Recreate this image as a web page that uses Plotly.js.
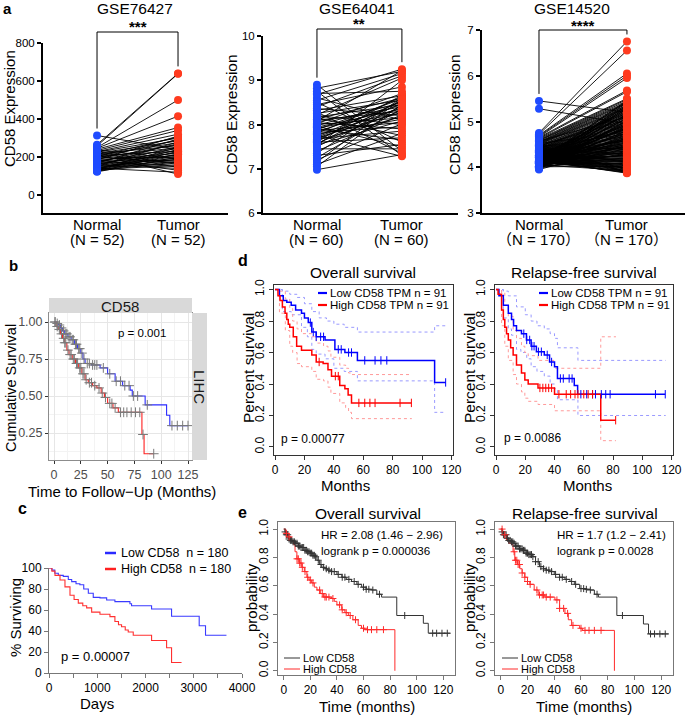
<!DOCTYPE html>
<html><head><meta charset="utf-8">
<script src="https://cdn.plot.ly/plotly-3.0.1.min.js"></script>
<style>body{margin:0;background:#fff}#chart{width:685px;height:715px}</style>
</head><body><div id="chart"></div>
<script>
// ---------- Panel a data ----------
const groups = [0, 1]; // Normal, Tumor positions
const titlesA = ['GSE76427', 'GSE64041', 'GSE14520'];
const starsA = ['***', '**', '****'];
const nLabelsA = [['(N = 52)', '(N = 52)'], ['(N = 60)', '(N = 60)'], ['\uFF08N = 170\uFF09', '\uFF08N = 170\uFF09']];
const normal76427 = [313,265,258,250,246,241,238,234,231,228,225,222,219,216,213,210,207,204,201,199,196,193,190,188,185,182,180,177,175,172,170,167,165,162,160,157,155,152,150,148,145,143,141,139,137,135,133,131,129,127,125,122];
const tumor76427 = [240,640,638,500,415,355,190,340,160,320,300,145,285,260,110,275,230,305,170,250,290,200,265,130,310,220,180,245,150,270,210,295,185,235,140,255,175,225,280,195,165,215,120,205,250,155,240,190,230,175,215,200];
const normal64041 = [8.90,8.82,8.75,8.68,8.60,8.55,8.50,8.45,8.40,8.36,8.32,8.28,8.25,8.22,8.20,8.17,8.15,8.12,8.10,8.08,8.06,8.04,8.02,8.00,7.98,7.96,7.94,7.92,7.90,7.88,7.86,7.84,7.82,7.80,7.78,7.76,7.74,7.72,7.70,7.68,7.66,7.64,7.62,7.60,7.58,7.56,7.54,7.52,7.50,7.45,7.40,7.35,7.30,7.25,7.20,7.15,7.10,7.05,6.98,8.70];
const tumor64041 = [7.40,9.20,7.30,9.25,8.10,9.15,7.60,8.85,9.10,8.20,8.65,7.35,8.55,9.05,8.00,8.45,7.75,8.60,8.30,9.22,8.40,7.90,8.70,8.15,8.50,7.50,8.35,8.25,7.65,8.58,8.05,8.45,7.95,8.62,8.12,7.28,8.52,8.38,8.28,7.85,8.48,8.18,8.66,7.70,8.32,8.55,8.08,9.00,8.42,7.45,8.22,8.60,7.55,8.36,8.02,8.58,7.80,8.46,7.32,8.75];
const normal14520 = [5.45,5.28,4.75,4.72,4.70,4.68,4.66,4.65,4.63,4.62,4.60,4.59,4.58,4.56,4.55,4.54,4.53,4.52,4.51,4.50,4.49,4.48,4.47,4.46,4.45,4.45,4.44,4.43,4.42,4.41,4.40,4.40,4.39,4.38,4.37,4.37,4.36,4.35,4.35,4.34,4.33,4.33,4.32,4.31,4.31,4.30,4.30,4.29,4.28,4.28,4.27,4.27,4.26,4.26,4.25,4.25,4.24,4.24,4.23,4.23,4.22,4.22,4.21,4.21,4.20,4.20,4.20,4.19,4.19,4.18,4.18,4.18,4.17,4.17,4.16,4.16,4.16,4.15,4.15,4.15,4.14,4.14,4.14,4.13,4.13,4.13,4.12,4.12,4.12,4.11,4.11,4.11,4.10,4.10,4.10,4.10,4.09,4.09,4.09,4.08,4.08,4.08,4.07,4.07,4.07,4.06,4.06,4.06,4.05,4.05,4.05,4.05,4.04,4.04,4.04,4.03,4.03,4.03,4.02,4.02,4.02,4.01,4.01,4.01,4.00,4.00,4.00,3.99,3.99,3.98,4.36,4.28,4.21,4.47,4.15,4.09,4.32,4.25,4.19,4.12,4.41,4.06,4.52,4.30,4.17,4.23,4.38,4.03,4.27,4.11,4.44,4.20,4.08,4.34,4.14,4.57,4.02,4.26,4.18,4.39,4.10,4.29,4.05,4.22,4.48,4.13,3.97,4.31,4.07,3.95];
const tumor14520 = [5.20,4.95,6.75,6.55,6.05,6.00,5.95,5.68,5.65,5.50,5.48,5.45,5.42,5.40,5.38,5.35,5.32,5.30,5.28,5.25,3.90,5.22,5.20,3.88,5.18,5.15,5.12,3.95,5.10,5.08,5.05,5.02,5.00,4.98,4.95,4.92,4.90,4.88,4.85,4.82,4.80,4.78,4.75,4.72,4.70,4.68,4.65,4.62,4.60,4.58,4.55,4.52,4.50,4.48,4.45,4.42,4.40,4.38,4.35,4.32,4.30,4.28,4.25,4.22,4.20,4.18,4.15,4.12,4.10,4.08,4.05,4.02,4.00,3.98,3.96,3.94,3.92,3.90,3.88,3.87,5.46,5.15,4.85,4.62,4.44,4.26,4.06,5.34,4.96,4.74,4.56,4.36,4.16,3.99,5.24,5.06,4.86,4.66,4.46,4.27,4.08,5.38,5.16,4.94,4.76,4.54,4.34,4.14,3.93,5.28,5.08,4.88,4.68,4.48,4.28,4.09,5.42,5.20,5.00,4.80,4.60,4.41,4.21,4.02,5.32,5.12,4.91,4.71,4.51,4.31,4.11,3.91,5.26,5.04,4.84,4.64,4.43,4.23,4.03,5.44,5.18,4.97,4.77,4.57,4.37,4.17,3.97,5.36,5.14,4.93,4.73,4.53,4.33,4.13,5.30,5.10,4.89,4.69,4.49,4.29,4.19,4.99,4.79,4.59,4.39,3.89,5.02,4.82,4.63,4.47];

// ---------- Panel b (months, cumulative survival) ----------
const bLowT = [0,2,4,6,8,10,13,16,19,22,25,27,29,35,43,50,57,64,71,73,85,105,108,125];
const bLowS = [1.0,0.99,0.98,0.96,0.94,0.92,0.90,0.88,0.85,0.82,0.79,0.75,0.72,0.71,0.69,0.65,0.60,0.57,0.54,0.50,0.44,0.37,0.30,0.30];
const bHighT = [0,2,4,6,8,10,12,14,17,20,23,26,29,32,36,40,44,47,50,55,60,82,84,93];
const bHighS = [1.0,0.97,0.95,0.92,0.89,0.86,0.81,0.78,0.75,0.72,0.69,0.65,0.61,0.59,0.57,0.555,0.52,0.49,0.45,0.42,0.39,0.24,0.11,0.11];
const bLowCens = [1,3,5,7,9,11,12,14,15,17,18,20,21,23,24,26,28,31,33,36,38,40,46,52,58,62,66,70,74,78,87,110,115,120,125];
const bHighCens = [1,3,5,7,9,10,11,13,15,16,18,19,21,22,24,25,27,28,30,33,35,38,42,45,48,52,54,57,62,65,68,72,76,80,83,93];

// ---------- Panel c (days, % surviving) ----------
const cLowT = [0,60,120,193,296,400,470,560,640,720,815,917,1056,1195,1366,1677,1711,2126,2540,3113,3244,3678];
const cLowS = [100,98,95,93,92,89,87,85,84,80,76,72,71.5,69.5,68,66,64,61,54,45,36,36];
const cHighT = [0,60,124,228,331,435,520,607,700,780,884,1056,1263,1366,1440,1504,1580,1642,1746,2126,2437,2540,2747];
const cHighS = [100,97,93,88.6,82,74,70,66.5,64,62,58,56,53.7,49,46,44,41,39,36,31,24,10,10];

// ---------- Panel d1 Overall survival (GEPIA) ----------
const d1LowT = [0,3,5.6,8,11,14,18,20,22.6,25,28,34,40.7,47.5,56,108.5,116];
const d1LowS = [1.0,0.96,0.93,0.92,0.90,0.87,0.85,0.82,0.79,0.73,0.70,0.68,0.62,0.60,0.55,0.41,0.41];
const d1HighT = [0,2,3.4,5,6.8,8,9,10,12.4,14.7,18,25,28,32.7,36,38.4,44,47.5,49.7,52,92.7];
const d1HighS = [1.0,0.96,0.93,0.89,0.85,0.81,0.78,0.76,0.70,0.64,0.615,0.585,0.54,0.53,0.49,0.45,0.39,0.37,0.33,0.28,0.28];
const d1LowUpT = [0,5,10,15,20,25,30,35,40,47,56,108.5,116];
const d1LowUpS = [1.0,0.99,0.97,0.95,0.91,0.86,0.82,0.80,0.78,0.76,0.73,0.77,0.77];
const d1LowLoT = [0,5,11,18,22,25,28,34,40,47,56,108.5,116];
const d1LowLoS = [1.0,0.86,0.84,0.76,0.70,0.62,0.59,0.56,0.50,0.48,0.42,0.22,0.22];
const d1HighCiT = [0,3,7,10,12,15,18,25,28,33,36,38,44,48,50,52,93];
const d1HighUpS = [1.0,0.99,0.94,0.88,0.80,0.75,0.72,0.70,0.66,0.64,0.61,0.57,0.52,0.50,0.47,0.46,0.46];
const d1HighLoS = [1.0,0.85,0.74,0.64,0.60,0.53,0.51,0.48,0.43,0.42,0.38,0.34,0.28,0.25,0.22,0.18,0.18];
const d1LowCens = [24,26,28,31,33,43,45,50,52,61,68,72,76,116];
const d1HighCens = [30,41,43,57,61,64.5,68,85,92.7];

// ---------- Panel d2 Relapse-free survival (GEPIA) ----------
const d2LowT = [0,2,5,8.4,10.6,12,14,17.4,20.8,24,27.6,33,36.6,40,42,53.5,55.8,115.7];
const d2LowS = [1.0,0.96,0.90,0.85,0.81,0.77,0.74,0.72,0.68,0.64,0.605,0.585,0.54,0.51,0.435,0.39,0.335,0.335];
const d2HighT = [0,1.4,3.8,5,6,7.2,8.4,10,11.7,14,17.4,19.7,22,28.7,40,71.6,81.8];
const d2HighS = [1.0,0.97,0.87,0.81,0.76,0.72,0.68,0.63,0.585,0.52,0.47,0.425,0.40,0.375,0.335,0.17,0.17];
const d2LowUpT = [0,5,8.4,14,20,24,28,33,37,40,42,54,56,116];
const d2LowUpS = [1.0,0.99,0.96,0.89,0.84,0.80,0.77,0.75,0.72,0.69,0.63,0.63,0.55,0.55];
const d2LowLoT = [0,5,8.4,10.6,14,17,21,24,28,33,37,40,42,54,56,116];
const d2LowLoS = [1.0,0.82,0.75,0.71,0.62,0.60,0.56,0.51,0.48,0.45,0.40,0.37,0.30,0.30,0.20,0.20];
const d2HighCiT = [0,3.8,6,8.4,11.7,14,17.4,19.7,22,28.7,40,71.6,82];
const d2HighUpS = [1.0,0.98,0.90,0.83,0.74,0.69,0.64,0.60,0.58,0.55,0.50,0.70,0.70];
const d2HighLoS = [1.0,0.77,0.64,0.55,0.46,0.40,0.35,0.31,0.29,0.27,0.23,0.04,0.04];
const d2LowCens = [19,21,23,24.5,26,29,31,35,38,44,46,50,52,58,62,66,68,72,75,78,109,115.7];
const d2HighCens = [30,32,34,36,38,43,48,51,54,56,60,63,66,81.8];

// ---------- Panel e1 Overall survival (KM plotter) ----------
const e1LowT = [0,1,2,3.6,5,6.5,8.6,11,13,16,18,20,22,23.6,25,27,28.6,31,33,36,40,43.7,47,51,55,58.6,62,66,70,73.6,85,105,108.7,125];
const e1LowS = [1.0,0.98,0.96,0.93,0.92,0.91,0.90,0.88,0.87,0.85,0.84,0.83,0.815,0.805,0.78,0.75,0.73,0.72,0.71,0.70,0.68,0.66,0.645,0.63,0.61,0.59,0.575,0.57,0.54,0.52,0.39,0.335,0.265,0.265];
const e1HighT = [0,1.5,3.6,5.5,7.4,8.5,9.9,12,13.6,15.5,17.4,19,21,23,25,27.5,30,36,38,40,43.6,46,48.6,52,56,58.5,61,83.6];
const e1HighS = [1.0,0.97,0.945,0.92,0.89,0.84,0.79,0.76,0.73,0.70,0.66,0.64,0.62,0.59,0.57,0.545,0.52,0.51,0.49,0.465,0.43,0.41,0.39,0.36,0.32,0.30,0.29,0.0];
const e1LowCens = [1,2,3,4,5,6,7,8,9,10,11,12,13,14,15,16,17,18,19,20,21,22,23,24,26,28,30,32,34,36,38,41,44,46,49,53,56,60,62,64,67,72,91,112,115,119,123];
const e1HighCens = [2,4,10,11,12,13,14,16,18,20,22,27,29,31,32,34,37,42,44,47,50,54,60,63,66,70,75];

// ---------- Panel e2 Relapse-free survival (KM plotter) ----------
const e2LowT = [0,1,2,4.3,6,7.5,9.2,11,14,16.7,19,21,24,26,29,32,34,36.7,40,44,48,51.8,55,59,63,66.8,70,73,86.8,106.7,110.5,125.5];
const e2LowS = [1.0,0.98,0.96,0.935,0.92,0.91,0.90,0.88,0.86,0.85,0.83,0.82,0.805,0.77,0.735,0.72,0.71,0.70,0.68,0.66,0.645,0.63,0.61,0.58,0.575,0.57,0.54,0.52,0.39,0.33,0.26,0.26];
const e2HighT = [0,1.5,4.3,6,8,9.2,10.5,12.5,14.3,16,18,20,21.8,25,28,33,40.5,44,48,50.5,53,59,61,85];
const e2HighS = [1.0,0.96,0.92,0.90,0.89,0.84,0.78,0.75,0.72,0.69,0.66,0.63,0.61,0.57,0.535,0.52,0.50,0.44,0.405,0.36,0.32,0.30,0.285,0.0];
const e2LowCens = [1,2,3,4,5,6,7,8,9,10,11,12,13,14,15,16,17,18,19,20,21,22,23,24,26,28,30,32,34,36,38,41,44,46,49,53,56,60,62,64,67,72,91,112,115,119,123];
const e2HighCens = [1,3,10,11,12,13,14,16,18,20,22,27,29,31,32,34,37,42,44,47,50,54,60,63,66,70,75];

// ---------- helpers ----------
const W = 685, H = 715;
const FONT = "Arial, 'Liberation Sans', 'Noto Sans CJK SC', sans-serif";
const px = x => x / W, py = y => 1 - y / H;
function stepAt(T, S, t) { let v = S[0]; for (let i = 0; i < T.length; i++) { if (T[i] <= t) v = S[i]; else break; } return v; }

const traces = [];
const annotations = [];
const shapes = [];
function A(text, x, y, size, o) { annotations.push(Object.assign({text, x: px(x), y: py(y), xref: 'paper', yref: 'paper', showarrow: false, xanchor: 'center', yanchor: 'middle', borderpad: 0, font: {family: FONT, size: size, color: '#000'}}, o || {})); }
function L(x0, y0, x1, y1, color, width, dash) { shapes.push({type: 'line', xref: 'paper', yref: 'paper', x0: px(x0), y0: py(y0), x1: px(x1), y1: py(y1), line: {color, width, dash: dash || 'solid'}}); }

// ---------- Panel a ----------
const aBox = [
  {x0: 43, x1: 228, y0: 213, y1: 43, xr: [-0.667, 1.617], yr: [-94.7, 800], ticks: [0, 200, 400, 600, 800], normal: normal76427, tumor: tumor76427, brTop: 32, tx: 135},
  {x0: 263, x1: 458, y0: 213, y1: 36, xr: [-0.635, 1.66], yr: [6, 10], ticks: [6, 7, 8, 9, 10], normal: normal64041, tumor: tumor64041, brTop: 29, tx: 357},
  {x0: 482, x1: 685, y0: 213, y1: 30, xr: [-0.648, 1.66], yr: [3, 7], ticks: [3, 4, 5, 6, 7], normal: normal14520, tumor: tumor14520, brTop: 30, tx: 572}
];
const layout = {
  width: W, height: H, margin: {l: 0, r: 0, t: 0, b: 0}, showlegend: false,
  paper_bgcolor: '#fff', plot_bgcolor: 'rgba(0,0,0,0)', font: {family: FONT, size: 13, color: '#000'}
};
aBox.forEach((b, k) => {
  const i = k + 1, xa = 'x' + (i === 1 ? '' : i), ya = 'y' + (i === 1 ? '' : i);
  const xk = 'xaxis' + (i === 1 ? '' : i), yk = 'yaxis' + (i === 1 ? '' : i);
  layout[xk] = {domain: [px(b.x0), px(b.x1)], range: b.xr, anchor: ya, showline: true, linewidth: 2, linecolor: '#000', showticklabels: false, ticks: '', showgrid: false, zeroline: false, fixedrange: true};
  layout[yk] = {domain: [py(b.y0), py(b.y1)], range: b.yr, anchor: xa, showline: true, linewidth: 2, linecolor: '#000', tickvals: b.ticks, ticks: 'outside', ticklen: 4, tickwidth: 2, tickcolor: '#000', showgrid: false, zeroline: false, tickfont: {size: 11.5, color: '#000'}, fixedrange: true};
  const lx = [], ly = [];
  for (let j = 0; j < b.normal.length; j++) { lx.push(groups[0], groups[1], null); ly.push(b.normal[j], b.tumor[j], null); }
  traces.push({type: 'scatter', mode: 'lines', x: lx, y: ly, xaxis: xa, yaxis: ya, line: {color: '#000', width: 0.9}, cliponaxis: false, hoverinfo: 'skip'});
  traces.push({type: 'scatter', mode: 'markers', x: b.normal.map(() => groups[0]), y: b.normal, xaxis: xa, yaxis: ya, marker: {color: '#1f4bff', size: 8}, cliponaxis: false});
  traces.push({type: 'scatter', mode: 'markers', x: b.tumor.map(() => groups[1]), y: b.tumor, xaxis: xa, yaxis: ya, marker: {color: '#ff3b1f', size: 8}, cliponaxis: false});
  // significance bracket
  const mx = v => b.x0 + (v - b.xr[0]) / (b.xr[1] - b.xr[0]) * (b.x1 - b.x0);
  const my = v => b.y0 - (v - b.yr[0]) / (b.yr[1] - b.yr[0]) * (b.y0 - b.y1);
  const xN = mx(groups[0]), xT = mx(groups[1]);
  const nMax = Math.max(...b.normal), tMax = Math.max(...b.tumor);
  L(xN, b.brTop, xT, b.brTop, '#000', 1);
  L(xN, b.brTop, xN, my(nMax) - 7, '#000', 1);
  L(xT, b.brTop, xT, my(tMax) - 7, '#000', 1);
  A('<b>' + starsA[k] + '</b>', (xN + xT) / 2, b.brTop - 5, 15);
  A(titlesA[k], b.tx, 8, 15.5);
  A('Normal', xN, 224, 15);
  A('Tumor', xT, 224, 15);
  A(nLabelsA[k][0], xN, 240, 15);
  A(nLabelsA[k][1], xT, 240, 15);
});
A('CD58 Expression', 9, 109, 15, {textangle: -90});
A('CD58 Expression', 231, 115, 15.5, {textangle: -90});
A('CD58 Expression', 454, 115, 15.5, {textangle: -90});
A('<b>a</b>', 8, 9, 15);

// ---------- Panel b ----------
layout.xaxis4 = {domain: [px(49), px(192)], range: [-4.66, 128.7], anchor: 'y4', tickvals: [0, 25, 50, 75, 100, 125], showgrid: true, gridcolor: '#e6e6e6', gridwidth: 1,
  minor: {tickvals: [12.5, 37.5, 62.5, 87.5, 112.5], showgrid: true, gridcolor: '#f3f3f3', ticks: ''},
  ticks: 'outside', ticklen: 3, tickcolor: '#333', showline: true, mirror: true, linecolor: '#8c8c8c', linewidth: 1, zeroline: false, tickfont: {size: 12.5, color: '#4d4d4d'}, fixedrange: true};
layout.yaxis4 = {domain: [py(460), py(313)], range: [0.0676, 1.061], anchor: 'x4', tickvals: [0.25, 0.5, 0.75, 1.0], ticktext: ['0.25', '0.50', '0.75', '1.00'], showgrid: true, gridcolor: '#e6e6e6',
  minor: {tickvals: [0.125, 0.375, 0.625, 0.875], showgrid: true, gridcolor: '#f3f3f3', ticks: ''},
  ticks: 'outside', ticklen: 3, tickcolor: '#333', showline: true, mirror: true, linecolor: '#8c8c8c', linewidth: 1, zeroline: false, tickfont: {size: 12.5, color: '#4d4d4d'}, fixedrange: true};
traces.push({type: 'scatter', mode: 'lines', x: bLowT, y: bLowS, xaxis: 'x4', yaxis: 'y4', line: {color: '#2b2bff', width: 1.1, shape: 'hv'}});
traces.push({type: 'scatter', mode: 'lines', x: bHighT, y: bHighS, xaxis: 'x4', yaxis: 'y4', line: {color: '#ff2020', width: 1.1, shape: 'hv'}});
traces.push({type: 'scatter', mode: 'markers', x: bLowCens, y: bLowCens.map(t => stepAt(bLowT, bLowS, t)), xaxis: 'x4', yaxis: 'y4', marker: {symbol: 'cross-thin', size: 7, line: {width: 1, color: '#7a7a7a'}}});
traces.push({type: 'scatter', mode: 'markers', x: bHighCens, y: bHighCens.map(t => stepAt(bHighT, bHighS, t)), xaxis: 'x4', yaxis: 'y4', marker: {symbol: 'cross-thin', size: 7, line: {width: 1, color: '#7a7a7a'}}});
shapes.push({type: 'rect', xref: 'paper', yref: 'paper', x0: px(49), x1: px(192), y0: py(313), y1: py(298), fillcolor: '#d9d9d9', line: {width: 0}});
shapes.push({type: 'rect', xref: 'paper', yref: 'paper', x0: px(192), x1: px(207), y0: py(460), y1: py(313), fillcolor: '#d9d9d9', line: {width: 0}});
A('CD58', 120, 306, 15, {font: {family: FONT, size: 15, color: '#1a1a1a'}});
A('LIHC', 200, 387, 15, {textangle: 90, font: {family: FONT, size: 15, color: '#1a1a1a'}});
A('p = 0.001', 142, 333, 11.5);
A('Cumulative Survival', 11, 388, 14.5, {textangle: -90});
A('Time to Follow\u2212Up (Months)', 122, 492, 15);
A('<b>b</b>', 13, 265, 15);

// ---------- Panel c ----------
layout.xaxis5 = {domain: [px(49), px(242)], range: [0, 4000], anchor: 'y5', tickvals: [0, 1000, 2000, 3000, 4000], ticks: 'outside', ticklen: 4, tickcolor: '#777',
  minor: {tickvals: [500, 1500, 2500, 3500], ticks: 'outside', ticklen: 4, tickcolor: '#777'},
  showline: true, linecolor: '#777', linewidth: 1, showgrid: false, zeroline: false, tickfont: {size: 12, color: '#000'}, fixedrange: true};
layout.yaxis5 = {domain: [py(673), py(568)], range: [0, 100], anchor: 'x5', tickvals: [0, 20, 40, 60, 80, 100], ticks: 'outside', ticklen: 4, tickcolor: '#777',
  showline: true, linecolor: '#777', linewidth: 1, showgrid: false, zeroline: false, tickfont: {size: 12, color: '#000'}, fixedrange: true};
traces.push({type: 'scatter', mode: 'lines', x: cLowT, y: cLowS, xaxis: 'x5', yaxis: 'y5', line: {color: '#3a3aff', width: 1.1, shape: 'hv'}, cliponaxis: false});
traces.push({type: 'scatter', mode: 'lines', x: cHighT, y: cHighS, xaxis: 'x5', yaxis: 'y5', line: {color: '#ff3030', width: 1.1, shape: 'hv'}, cliponaxis: false});
L(105, 553, 116, 553, '#2a2aff', 2.5); L(105, 569, 116, 569, '#ff2020', 2.5);
A('Low CD58  n = 180', 120, 553, 12.5, {xanchor: 'left'});
A('High CD58  n = 180', 120, 569, 12.5, {xanchor: 'left'});
A('p = 0.00007', 60, 656, 13, {xanchor: 'left'});
A('% Surviving', 15, 618, 15, {textangle: -90});
A('Days', 97, 703, 15);
A('<b>c</b>', 22, 508, 16);

// ---------- Panel d ----------
function rAxes(xk, yk, xa, ya, xd, yd, xr, yr, lc) {
  layout[xk] = {domain: [px(xd[0]), px(xd[1])], range: xr, anchor: ya, tickvals: [0, 20, 40, 60, 80, 100, 120], ticks: 'outside', ticklen: 4, tickcolor: lc,
    showline: true, mirror: true, linecolor: lc, linewidth: 1, showgrid: false, zeroline: false, tickfont: {size: 12, color: '#000'}, fixedrange: true};
  layout[yk] = {domain: [py(yd[1]), py(yd[0])], range: yr, anchor: xa, tickvals: [0, 0.2, 0.4, 0.6, 0.8, 1.0], ticktext: ['0.0', '0.2', '0.4', '0.6', '0.8', '1.0'], tickangle: -90,
    ticks: 'outside', ticklen: 4, tickcolor: lc, showline: true, mirror: true, linecolor: lc, linewidth: 1, showgrid: false, zeroline: false, tickfont: {size: 12, color: '#000'}, fixedrange: true};
}
rAxes('xaxis6', 'yaxis6', 'x6', 'y6', [274, 453], [285, 455], [-0.7, 121], [-0.051, 1.029], '#333');
rAxes('xaxis7', 'yaxis7', 'x7', 'y7', [495, 673], [285, 455], [-0.7, 121], [-0.051, 1.029], '#333');
function km(T, S, xa, ya, color, width, dash) { traces.push({type: 'scatter', mode: 'lines', x: T, y: S, xaxis: xa, yaxis: ya, line: {color, width, shape: 'hv', dash: dash || 'solid'}, cliponaxis: false}); }
function cens(ts, T, S, xa, ya, color, symbol, size) { traces.push({type: 'scatter', mode: 'markers', x: ts, y: ts.map(t => stepAt(T, S, t)), xaxis: xa, yaxis: ya, marker: {symbol, size, color, line: {width: 1, color}}, cliponaxis: false}); }
const ciBlue = '#9a9aff', ciRed = '#ff9a9a';
km(d1LowUpT, d1LowUpS, 'x6', 'y6', ciBlue, 1, 'dot'); km(d1LowLoT, d1LowLoS, 'x6', 'y6', ciBlue, 1, 'dot');
km(d1HighCiT, d1HighUpS, 'x6', 'y6', ciRed, 1, 'dot'); km(d1HighCiT, d1HighLoS, 'x6', 'y6', ciRed, 1, 'dot');
km(d1LowT, d1LowS, 'x6', 'y6', '#0000ff', 1.5); km(d1HighT, d1HighS, 'x6', 'y6', '#ff0000', 1.5);
cens(d1LowCens, d1LowT, d1LowS, 'x6', 'y6', '#0000ff', 'line-ns', 6);
cens(d1HighCens, d1HighT, d1HighS, 'x6', 'y6', '#ff0000', 'line-ns', 6);
km(d2LowUpT, d2LowUpS, 'x7', 'y7', ciBlue, 1, 'dot'); km(d2LowLoT, d2LowLoS, 'x7', 'y7', ciBlue, 1, 'dot');
km(d2HighCiT, d2HighUpS, 'x7', 'y7', ciRed, 1, 'dot'); km(d2HighCiT, d2HighLoS, 'x7', 'y7', ciRed, 1, 'dot');
km(d2LowT, d2LowS, 'x7', 'y7', '#0000ff', 1.5); km(d2HighT, d2HighS, 'x7', 'y7', '#ff0000', 1.5);
cens(d2LowCens, d2LowT, d2LowS, 'x7', 'y7', '#0000ff', 'line-ns', 6);
cens(d2HighCens, d2HighT, d2HighS, 'x7', 'y7', '#ff0000', 'line-ns', 6);
A('Overall survival', 363, 272, 15.5);
A('Relapse-free survival', 584, 272, 15.5);
L(318, 293, 327, 293, '#0000ff', 2.2); L(318, 305, 327, 305, '#ff0000', 2.2);
A('Low CD58 TPM n = 91', 329, 293, 11.5, {xanchor: 'left'});
A('High CD58 TPM n = 91', 329, 305, 11.5, {xanchor: 'left'});
L(539, 293, 548, 293, '#0000ff', 2.2); L(539, 305, 548, 305, '#ff0000', 2.2);
A('Low CD58 TPM n = 91', 550, 293, 11.5, {xanchor: 'left'});
A('High CD58 TPM n = 91', 550, 305, 11.5, {xanchor: 'left'});
A('p = 0.00077', 280, 439, 12, {xanchor: 'left'});
A('p = 0.0086', 503, 438, 12, {xanchor: 'left'});
A('Percent survival', 249, 368, 15.5, {textangle: -90});
A('Percent survival', 470, 368, 15.5, {textangle: -90});
A('Months', 345, 485, 15);
A('Months', 587, 485, 15);
A('<b>d</b>', 243, 260, 16);

// ---------- Panel e ----------
rAxes('xaxis8', 'yaxis8', 'x8', 'y8', [278, 455], [522, 675], [-4.3, 128.8], [-0.03, 1.05], '#777');
rAxes('xaxis9', 'yaxis9', 'x9', 'y9', [495, 673], [522, 675], [-4.3, 128.8], [-0.03, 1.05], '#777');
km(e1LowT, e1LowS, 'x8', 'y8', '#333333', 1); km(e1HighT, e1HighS, 'x8', 'y8', '#ff2a2a', 1);
cens(e1LowCens, e1LowT, e1LowS, 'x8', 'y8', '#333333', 'cross-thin', 5);
cens(e1HighCens, e1HighT, e1HighS, 'x8', 'y8', '#ff2a2a', 'cross-thin', 5);
km(e2LowT, e2LowS, 'x9', 'y9', '#333333', 1); km(e2HighT, e2HighS, 'x9', 'y9', '#ff2a2a', 1);
cens(e2LowCens, e2LowT, e2LowS, 'x9', 'y9', '#333333', 'cross-thin', 5);
cens(e2HighCens, e2HighT, e2HighS, 'x9', 'y9', '#ff2a2a', 'cross-thin', 5);
A('Overall survival', 368, 513, 15.5);
A('Relapse-free survival', 585, 513, 15.5);
A('HR = 2.08 (1.46 \u2212 2.96)', 320, 534, 11.6, {xanchor: 'left'});
A('logrank p = 0.000036', 320, 550, 11.6, {xanchor: 'left'});
A('HR = 1.7 (1.2 \u2212 2.41)', 556, 534, 11.6, {xanchor: 'left'});
A('logrank p = 0.0028', 556, 550, 11.6, {xanchor: 'left'});
L(284, 658, 300, 658, '#333333', 1); L(284, 669, 300, 669, '#ff2a2a', 1);
A('Low CD58', 302, 658, 11, {xanchor: 'left'});
A('High CD58', 302, 669, 11, {xanchor: 'left'});
L(502, 658, 518, 658, '#333333', 1); L(502, 669, 518, 669, '#ff2a2a', 1);
A('Low CD58', 520, 658, 11, {xanchor: 'left'});
A('High CD58', 520, 669, 11, {xanchor: 'left'});
A('probability', 251, 598, 15, {textangle: -90});
A('probability', 469, 598, 15, {textangle: -90});
A('Time (months)', 367, 706, 15);
A('Time (months)', 584, 706, 15);
A('<b>e</b>', 243, 512, 16);

layout.annotations = annotations;
layout.shapes = shapes;
Plotly.newPlot('chart', traces, layout, {staticPlot: true, displayModeBar: false});
</script>
</body></html>
